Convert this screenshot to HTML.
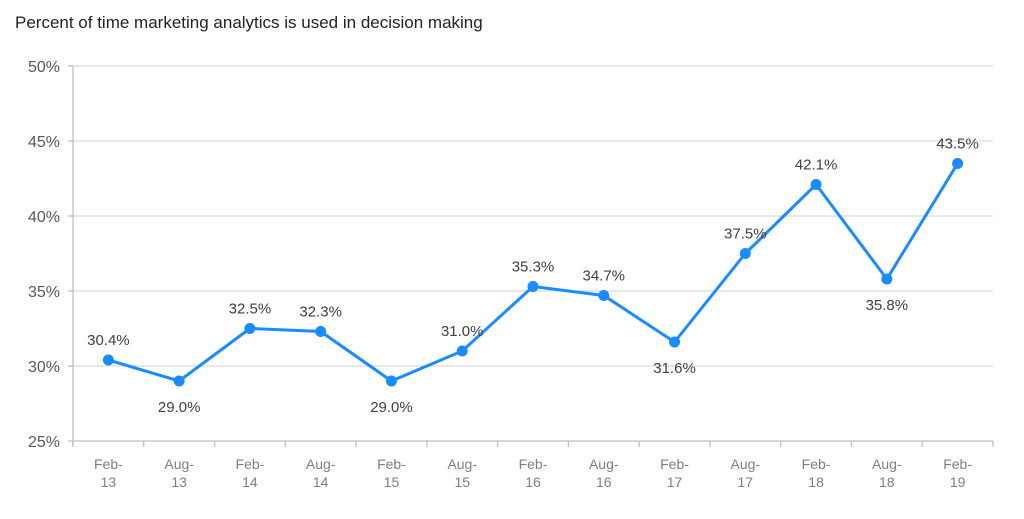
<!DOCTYPE html>
<html><head><meta charset="utf-8"><style>
body{margin:0;background:#fff;}
svg text{font-family:"Liberation Sans",sans-serif;}
</style></head><body>
<svg width="1024" height="514" xmlns="http://www.w3.org/2000/svg">
<text x="15" y="28" font-size="17" fill="#222">Percent of time marketing analytics is used in decision making</text>
<g id="grid"></g><g id="axes"></g><g id="series"></g>
</svg>
<script>
const categories=[["Feb-","13"],["Aug-","13"],["Feb-","14"],["Aug-","14"],["Feb-","15"],["Aug-","15"],["Feb-","16"],["Aug-","16"],["Feb-","17"],["Aug-","17"],["Feb-","18"],["Aug-","18"],["Feb-","19"]];
const values=[30.4,29.0,32.5,32.3,29.0,31.0,35.3,34.7,31.6,37.5,42.1,35.8,43.5];
const labelBelow=[false,true,false,false,true,false,false,false,true,false,false,true,false];
const yTicks=[25,30,35,40,45,50];
const NS="http://www.w3.org/2000/svg";
const x0=73,x1=993,yTop=66,yBot=441,yMin=25,yMax=50;
const band=(x1-x0)/categories.length;
const xs=i=>x0+band*(i+0.5);
const ys=v=>yBot-(v-yMin)/(yMax-yMin)*(yBot-yTop);
function mk(tag,attrs,parent){const e=document.createElementNS(NS,tag);for(const k in attrs)e.setAttribute(k,attrs[k]);parent.appendChild(e);return e;}
const grid=document.getElementById('grid'),axes=document.getElementById('axes'),ser=document.getElementById('series');
yTicks.forEach(t=>{
 const y=ys(t);
 const l=mk('line',{x1:t===yMin?x0:x0,x2:x1,y1:y,y2:y,stroke:t===yMin?'#bfbfbf':'#d9d9d9','stroke-width':1.3},grid);
 
 
 const tk=mk('line',{x1:x0-5,x2:x0,y1:y,y2:y,stroke:'#bfbfbf','stroke-width':1.3},axes);
 
 
 const tx=mk('text',{x:x0-13,y:y+6,'text-anchor':'end','font-size':16,fill:'#595959'},axes);
 tx.textContent=t+'%';
 
 
});
const ya=mk('line',{x1:x0,x2:x0,y1:yTop,y2:yBot+5,stroke:'#bfbfbf','stroke-width':1.3},axes);


for(let i=0;i<=categories.length;i++){
 const x=x0+band*i;
 const t=mk('line',{x1:x,x2:x,y1:yBot,y2:yBot+6,stroke:'#bfbfbf','stroke-width':1.3},axes);
 
 
}
categories.forEach((c,i)=>{
 const t=mk('text',{x:xs(i),y:469,'text-anchor':'middle','font-size':14,fill:'#7f7f7f'},axes);
 
 
 const a=mk('tspan',{x:xs(i),dy:0},t);a.textContent=c[0];
 const b=mk('tspan',{x:xs(i),dy:18},t);b.textContent=c[1];
});
const pts=values.map((v,i)=>xs(i)+','+ys(v)).join(' ');
const pl=mk('polyline',{points:pts,fill:'none',stroke:'#1a8cff','stroke-width':3,'stroke-linejoin':'round'},ser);


values.forEach((v,i)=>{
 const c=mk('circle',{cx:xs(i),cy:ys(v),r:5.5,fill:'#1a8cff'},ser);
 
 
 const t=mk('text',{x:xs(i),y:ys(v)+(labelBelow[i]?31:-15),'text-anchor':'middle','font-size':15,fill:'#404040'},ser);
 t.textContent=v.toFixed(1)+'%';
 
 
});
</script>
</body></html>
